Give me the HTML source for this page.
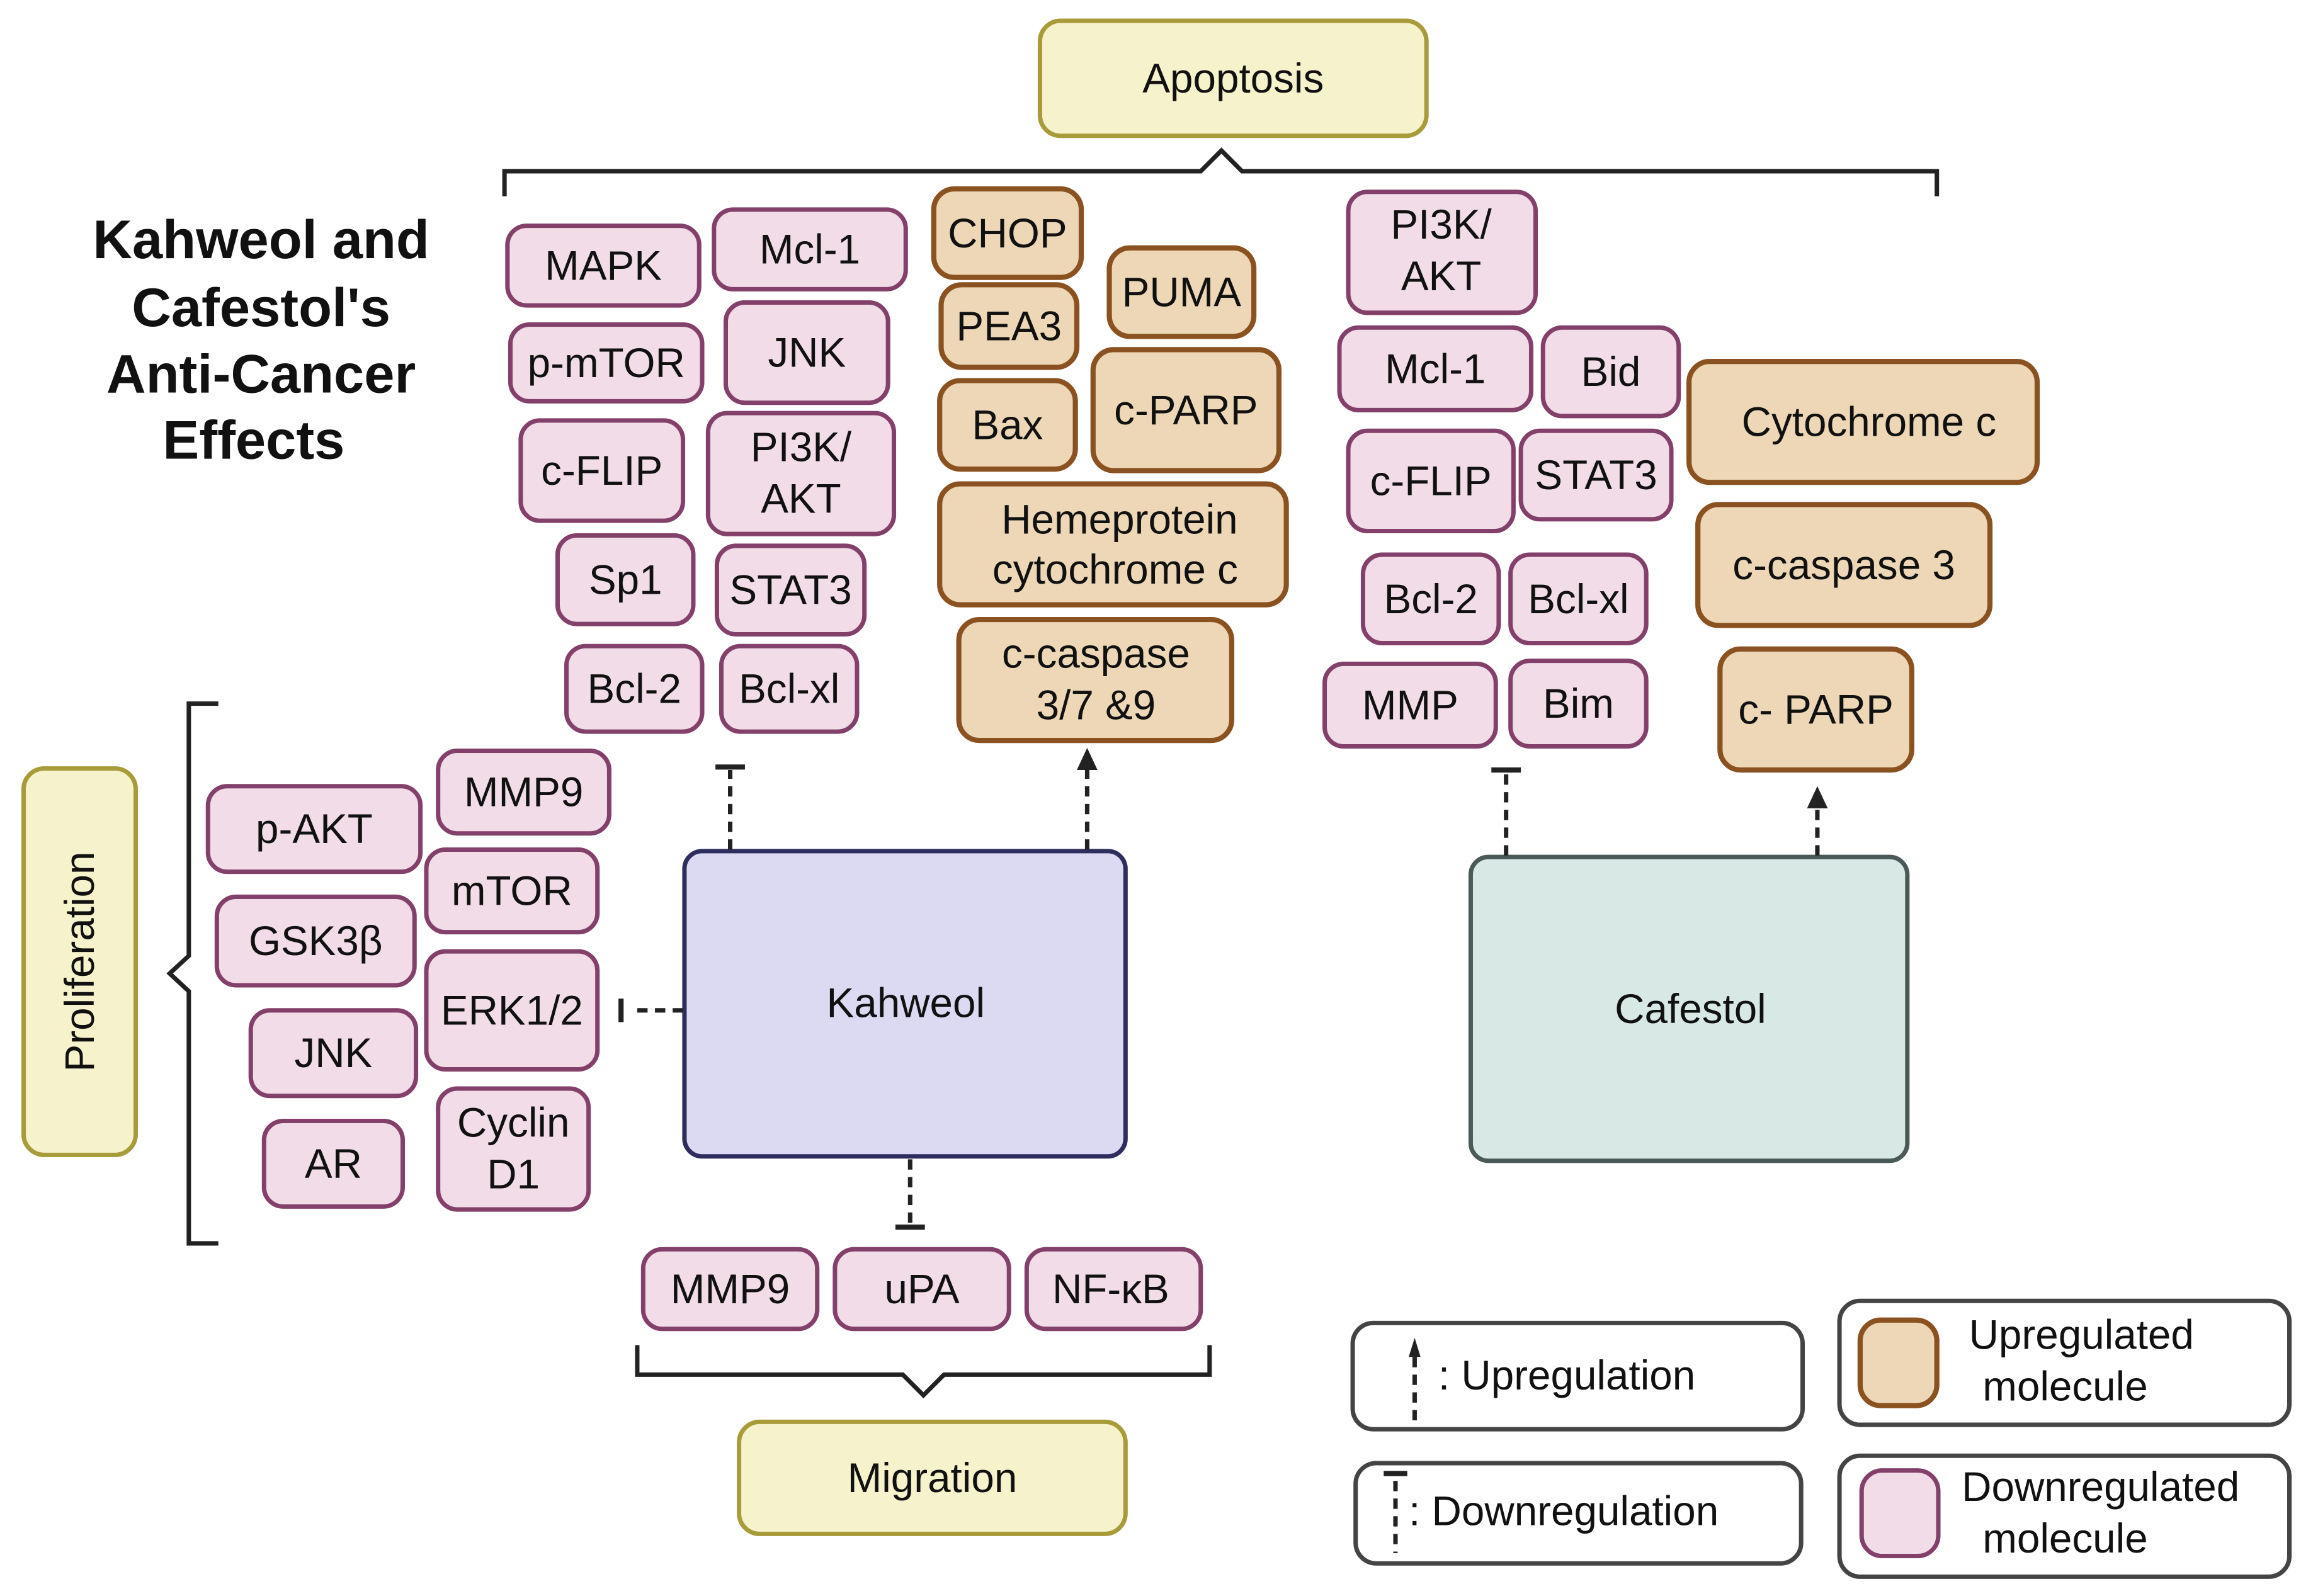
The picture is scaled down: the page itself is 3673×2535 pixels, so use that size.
<!DOCTYPE html>
<html><head><meta charset="utf-8"><style>
html,body{margin:0;padding:0;background:#fff;}
svg{display:block;}
text{font-family:"Liberation Sans","DejaVu Sans",sans-serif;fill:#111;}
</style></head><body>
<svg width="3673" height="2535" viewBox="0 0 1568 1082" xmlns="http://www.w3.org/2000/svg">
<defs>
<style>
.p{fill:#F1DCE8;stroke:#83406A;stroke-width:3;}
.o{fill:#EDD7B6;stroke:#8B5221;stroke-width:3.5;}
.y{fill:#F6F2CC;stroke:#A89B3A;stroke-width:3;}
.l{fill:#fff;stroke:#444;stroke-width:3;}
.t{font-size:28px;text-anchor:middle;dominant-baseline:central;}
.br{fill:none;stroke:#222;stroke-width:3;}
.d{stroke:#222;stroke-width:3;stroke-dasharray:7,5;fill:none;}
.bar{stroke:#222;stroke-width:3.5;}
</style>
</defs>

<!-- Apoptosis -->
<rect class="y" x="705" y="14" width="262" height="78" rx="14"/>
<text class="t" x="836" y="53">Apoptosis</text>
<path class="br" d="M342,133 V116 H814 L828,102 L842,116 H1313 V133"/>

<!-- Title -->
<g font-weight="bold" font-size="37" text-anchor="middle">
<text x="177" y="175" text-anchor="middle" font-weight="bold" font-size="37">Kahweol and</text>
<text x="177" y="221" text-anchor="middle" font-weight="bold" font-size="37">Cafestol's</text>
<text x="177" y="266" text-anchor="middle" font-weight="bold" font-size="37">Anti-Cancer</text>
<text x="172" y="311" text-anchor="middle" font-weight="bold" font-size="37">Effects</text>
</g>

<!-- Left pink column (Kahweol apoptosis) -->
<rect class="p" x="344" y="153" width="130" height="54" rx="13"/><text class="t" x="409" y="180">MAPK</text>
<rect class="p" x="484" y="142" width="130" height="54" rx="13"/><text class="t" x="549" y="169">Mcl-1</text>
<rect class="p" x="346" y="220" width="130" height="52" rx="13"/><text class="t" x="411" y="246">p-mTOR</text>
<rect class="p" x="492" y="205" width="110" height="68" rx="13"/><text class="t" x="547" y="239">JNK</text>
<rect class="p" x="353" y="285" width="110" height="68" rx="13"/><text class="t" x="408" y="319">c-FLIP</text>
<rect class="p" x="480" y="280" width="126" height="82" rx="13"/><text class="t" x="543" y="303">PI3K/</text><text class="t" x="543" y="338">AKT</text>
<rect class="p" x="378" y="363" width="92" height="60" rx="13"/><text class="t" x="424" y="393">Sp1</text>
<rect class="p" x="486" y="370" width="100" height="60" rx="13"/><text class="t" x="536" y="400">STAT3</text>
<rect class="p" x="384" y="438" width="92" height="58" rx="13"/><text class="t" x="430" y="467">Bcl-2</text>
<rect class="p" x="489" y="438" width="92" height="58" rx="13"/><text class="t" x="535" y="467">Bcl-xl</text>

<!-- Middle orange -->
<rect class="o" x="633" y="128" width="100" height="60" rx="14"/><text class="t" x="683" y="158">CHOP</text>
<rect class="o" x="638" y="193" width="92" height="56" rx="14"/><text class="t" x="684" y="221">PEA3</text>
<rect class="o" x="752" y="168" width="98" height="60" rx="14"/><text class="t" x="801" y="198">PUMA</text>
<rect class="o" x="637" y="258" width="92" height="60" rx="14"/><text class="t" x="683" y="288">Bax</text>
<rect class="o" x="741" y="237" width="126" height="82" rx="14"/><text class="t" x="804" y="278">c-PARP</text>
<rect class="o" x="637" y="328" width="235" height="82" rx="14"/><text class="t" x="759" y="352">Hemeprotein</text><text class="t" x="756" y="386">cytochrome c</text>
<rect class="o" x="650" y="420" width="185" height="82" rx="14"/><text class="t" x="743" y="443">c-caspase</text><text class="t" x="743" y="478">3/7 &amp;9</text>

<!-- Right pink -->
<rect class="p" x="914" y="130" width="127" height="82" rx="13"/><text class="t" x="977" y="152">PI3K/</text><text class="t" x="977" y="187">AKT</text>
<rect class="p" x="908" y="222" width="130" height="56" rx="13"/><text class="t" x="973" y="250">Mcl-1</text>
<rect class="p" x="1046" y="222" width="92" height="60" rx="13"/><text class="t" x="1092" y="252">Bid</text>
<rect class="p" x="914" y="292" width="112" height="68" rx="13"/><text class="t" x="970" y="326">c-FLIP</text>
<rect class="p" x="1031" y="292" width="102" height="60" rx="13"/><text class="t" x="1082" y="322">STAT3</text>
<rect class="p" x="924" y="376" width="92" height="60" rx="13"/><text class="t" x="970" y="406">Bcl-2</text>
<rect class="p" x="1024" y="376" width="92" height="60" rx="13"/><text class="t" x="1070" y="406">Bcl-xl</text>
<rect class="p" x="898" y="450" width="116" height="56" rx="13"/><text class="t" x="956" y="478">MMP</text>
<rect class="p" x="1024" y="448" width="92" height="58" rx="13"/><text class="t" x="1070" y="477">Bim</text>

<!-- Right orange -->
<rect class="o" x="1145" y="245" width="236" height="82" rx="14"/><text class="t" x="1267" y="286">Cytochrome c</text>
<rect class="o" x="1151" y="342" width="198" height="82" rx="14"/><text class="t" x="1250" y="383">c-caspase 3</text>
<rect class="o" x="1166" y="440" width="130" height="82" rx="14"/><text class="t" x="1231" y="481">c- PARP</text>

<!-- Proliferation -->
<rect class="y" x="16" y="521" width="76" height="262" rx="14"/>
<text class="t" x="0" y="0" transform="translate(54,652) rotate(-90)">Proliferation</text>
<path class="br" d="M148,477 H128 V648 L115,660 L128,672 V843 H148"/>
<rect class="p" x="141" y="533" width="144" height="58" rx="13"/><text class="t" x="213" y="562">p-AKT</text>
<rect class="p" x="297" y="509" width="116" height="56" rx="13"/><text class="t" x="355" y="537">MMP9</text>
<rect class="p" x="289" y="576" width="116" height="56" rx="13"/><text class="t" x="347" y="604">mTOR</text>
<rect class="p" x="147" y="608" width="134" height="60" rx="13"/><text class="t" x="214" y="638">GSK3β</text>
<rect class="p" x="289" y="645" width="116" height="80" rx="13"/><text class="t" x="347" y="685">ERK1/2</text>
<rect class="p" x="170" y="685" width="112" height="58" rx="13"/><text class="t" x="226" y="714">JNK</text>
<rect class="p" x="179" y="760" width="94" height="58" rx="13"/><text class="t" x="226" y="789">AR</text>
<rect class="p" x="297" y="738" width="102" height="82" rx="13"/><text class="t" x="348" y="761">Cyclin</text><text class="t" x="348" y="796">D1</text>

<!-- Kahweol / Cafestol -->
<rect x="464" y="577" width="299" height="207" rx="12" fill="#DCDAF2" stroke="#2E2E5E" stroke-width="3"/>
<text class="t" x="614" y="680">Kahweol</text>
<rect x="997" y="581" width="296" height="206" rx="12" fill="#D8E8E4" stroke="#4A5A58" stroke-width="3"/>
<text class="t" x="1146" y="684">Cafestol</text>

<!-- Connectors -->
<line class="d" x1="495" y1="576" x2="495" y2="522"/>
<line class="bar" x1="485" y1="520" x2="505" y2="520"/>
<line class="d" x1="737" y1="576" x2="737" y2="522"/>
<path d="M730,522 L737,507 L744,522 Z" fill="#222"/>
<line class="d" x1="463" y1="685" x2="427" y2="685"/>
<line class="bar" x1="421" y1="677" x2="421" y2="693"/>
<line class="d" x1="617" y1="786" x2="617" y2="830"/>
<line class="bar" x1="607" y1="832" x2="627" y2="832"/>
<line class="d" x1="1021" y1="580" x2="1021" y2="524"/>
<line class="bar" x1="1011" y1="522" x2="1031" y2="522"/>
<line class="d" x1="1232" y1="580" x2="1232" y2="547"/>
<path d="M1225,548 L1232,533 L1239,548 Z" fill="#222"/>

<!-- Migration -->
<rect class="p" x="436" y="847" width="118" height="54" rx="13"/><text class="t" x="495" y="874">MMP9</text>
<rect class="p" x="566" y="847" width="118" height="54" rx="13"/><text class="t" x="625" y="874">uPA</text>
<rect class="p" x="696" y="847" width="118" height="54" rx="13"/><text class="t" x="753" y="874">NF-κB</text>
<path class="br" d="M432,912 V932 H612 L626,946 L640,932 H820 V912"/>
<rect class="y" x="501" y="964" width="262" height="76" rx="14"/>
<text class="t" x="632" y="1002">Migration</text>

<!-- Legend -->
<rect class="l" x="917" y="897" width="305" height="72" rx="14"/>
<line class="d" x1="959" y1="963" x2="959" y2="918" stroke-width="2"/>
<path d="M955,920 L959,907 L963,920 Z" fill="#222"/>
<text x="975" y="942" font-size="28">: Upregulation</text>
<rect class="l" x="919" y="992" width="302" height="68" rx="14"/>
<line class="bar" x1="938" y1="999" x2="954" y2="999"/>
<line class="d" x1="946" y1="1004" x2="946" y2="1053" stroke-width="2"/>
<text x="955" y="1034" font-size="28">: Downregulation</text>
<rect class="l" x="1247" y="882" width="305" height="84" rx="14"/>
<rect class="o" x="1261" y="895" width="52" height="58" rx="14"/>
<text class="t" x="1411" y="905">Upregulated</text><text class="t" x="1400" y="940">molecule</text>
<rect class="l" x="1247" y="987" width="305" height="82" rx="14"/>
<rect class="p" x="1262" y="997" width="52" height="58" rx="14"/>
<text class="t" x="1424" y="1008">Downregulated</text><text class="t" x="1400" y="1043">molecule</text>
</svg>
</body></html>
